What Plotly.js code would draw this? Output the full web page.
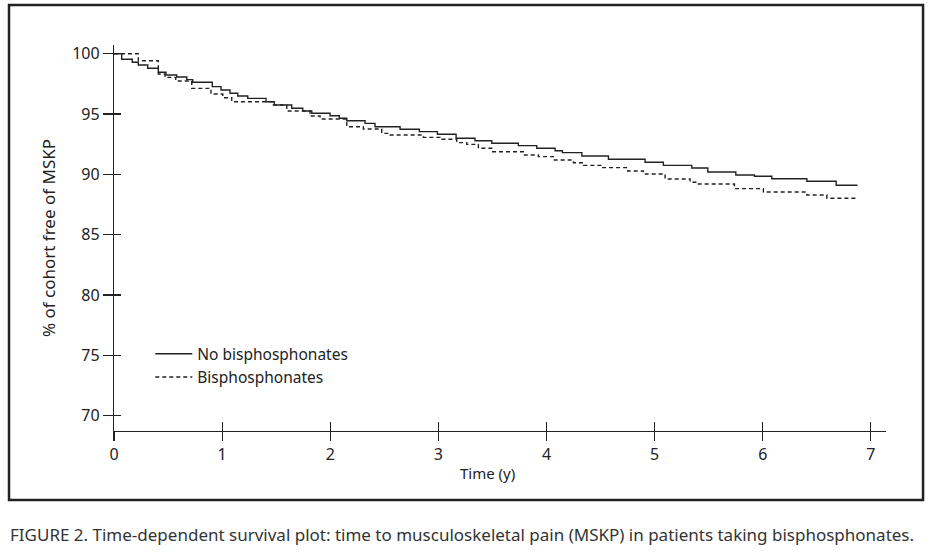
<!DOCTYPE html>
<html>
<head>
<meta charset="utf-8">
<script src="https://cdn.plot.ly/plotly-3.0.1.min.js"></script>
<style>
  html, body { margin: 0; padding: 0; background: #fff; }
  #container { width: 948px; height: 556px; }
</style>
</head>
<body>
<div id="container"></div>
<script>
// survival steps (time in years, % free of MSKP)
var noBisTime = [0, 0.071, 0.169, 0.225, 0.312, 0.410, 0.481, 0.580, 0.673, 0.728, 0.909, 0.990, 1.073, 1.144, 1.237,
    1.406, 1.483, 1.644, 1.746, 1.829, 1.998, 2.084, 2.153, 2.322, 2.414, 2.646, 2.824, 2.991, 3.164, 3.339, 3.494,
    3.740, 3.910, 4.080, 4.147, 4.327, 4.573, 4.912, 5.081, 5.344, 5.492, 5.751, 5.923, 6.084, 6.408, 6.679, 6.876];
var noBisPct = [100, 99.54, 99.29, 99.06, 98.79, 98.46, 98.24, 98.07, 97.85, 97.63, 97.27, 96.99, 96.72, 96.50, 96.30,
    96.02, 95.75, 95.48, 95.25, 95.06, 94.86, 94.65, 94.45, 94.23, 93.95, 93.74, 93.54, 93.32, 92.99, 92.79, 92.58,
    92.38, 92.16, 91.96, 91.80, 91.52, 91.25, 91.00, 90.75, 90.53, 90.20, 89.95, 89.84, 89.64, 89.43, 89.10, 89.10];

var bisTime = [0, 0.225, 0.410, 0.472, 0.571, 0.719, 0.897, 1.006, 1.089, 1.474, 1.598, 1.813, 1.906, 2.153, 2.306,
    2.476, 2.553, 2.861, 3.016, 3.170, 3.263, 3.370, 3.494, 3.786, 3.925, 4.064, 4.249, 4.341, 4.502, 4.752, 4.896,
    5.097, 5.328, 5.405, 5.738, 6.006, 6.408, 6.593, 6.876];
var bisPct = [100, 99.42, 98.32, 98.04, 97.74, 97.13, 96.66, 96.35, 96.02, 95.75, 95.25, 94.84, 94.59, 93.95, 93.76,
    93.40, 93.26, 93.07, 92.91, 92.63, 92.49, 92.16, 91.88, 91.61, 91.47, 91.19, 90.97, 90.75, 90.56, 90.28, 90.03,
    89.62, 89.35, 89.20, 88.82, 88.54, 88.29, 88.02, 88.02];

var xTicks = [0, 1, 2, 3, 4, 5, 6, 7];
var yTicks = [70, 75, 80, 85, 90, 95, 100];

var ink = '#222';
var fnt = 'Noto Sans, Liberation Sans, Arial, sans-serif';

var data = [];

data.push({
    x: noBisTime, y: noBisPct,
    mode: 'lines',
    line: { shape: 'hv', color: ink, width: 1.4 },
    name: 'No bisphosphonates',
    type: 'scatter'
});

data.push({
    x: bisTime, y: bisPct,
    mode: 'lines',
    line: { shape: 'hv', color: ink, width: 1.4, dash: '4px,3px' },
    name: 'Bisphosphonates',
    type: 'scatter'
});

var xr = [0, 7.14];
var yr = [68.74, 100.72];

var layout = {
    width: 948,
    height: 556,
    margin: { l: 114, r: 62, t: 45, b: 125 },
    paper_bgcolor: '#fff',
    plot_bgcolor: '#fff',
    font: { family: fnt, color: ink, size: 16 },
    showlegend: true,
    legend: {
        x: 0.047, y: 0.243, xanchor: 'left', yanchor: 'top',
        bgcolor: 'rgba(0,0,0,0)',
        font: { size: 15.5, color: ink },
        itemwidth: 37,
        tracegroupgap: 0
    },
    xaxis: {
        range: xr, tickvals: xTicks, ticks: 'outside', ticklen: 9, tickwidth: 1.2, tickcolor: ink,
        showline: true, linecolor: ink, linewidth: 1.2, showgrid: false, zeroline: false,
        tickfont: { size: 16 }
    },
    yaxis: {
        range: yr, tickvals: yTicks, ticks: 'outside', ticklen: 10, tickwidth: 1.2, tickcolor: ink,
        showline: true, linecolor: ink, linewidth: 1.2, showgrid: false, zeroline: false,
        tickfont: { size: 16 },
        title: { text: '% of cohort free of MSKP', font: { size: 17 }, standoff: 12 }
    },
    // inner half of the crossing ticks
    xaxis2: {
        range: xr, tickvals: xTicks, ticks: 'inside', ticklen: 9, tickwidth: 1.2, tickcolor: ink,
        overlaying: 'x', anchor: 'y', side: 'bottom', showticklabels: false, showgrid: false, zeroline: false
    },
    yaxis2: {
        range: yr, tickvals: yTicks, ticks: 'inside', ticklen: 7, tickwidth: 1.2, tickcolor: ink,
        overlaying: 'y', anchor: 'x', side: 'left', showticklabels: false, showgrid: false, zeroline: false
    },
    shapes: [{
        type: 'rect', xref: 'paper', yref: 'paper',
        x0: -0.136, x1: 1.048, y0: -0.1788, y1: 1.1036,
        line: { color: ink, width: 2.5 }
    }],
    annotations: [{
        // x axis title sits a little left of centre in the original
        xref: 'paper', yref: 'paper', x: 0.484, y: -0.109,
        xanchor: 'center', yanchor: 'middle', showarrow: false,
        text: 'Time (y)', font: { size: 15 }
    }, {
        xref: 'paper', yref: 'paper', x: -0.1373, y: -0.2694,
        xanchor: 'left', yanchor: 'middle', showarrow: false,
        text: 'FIGURE 2. Time-dependent survival plot: time to musculoskeletal pain (MSKP) in patients taking bisphosphonates.',
        font: { size: 17, color: '#333' }
    }]
};

// empty trace so the overlay tick axes get drawn
data.push({ x: [], y: [], xaxis: 'x2', yaxis: 'y2', showlegend: false, type: 'scatter' });

Plotly.newPlot('container', data, layout, { displayModeBar: false, staticPlot: true });
</script>
</body>
</html>
